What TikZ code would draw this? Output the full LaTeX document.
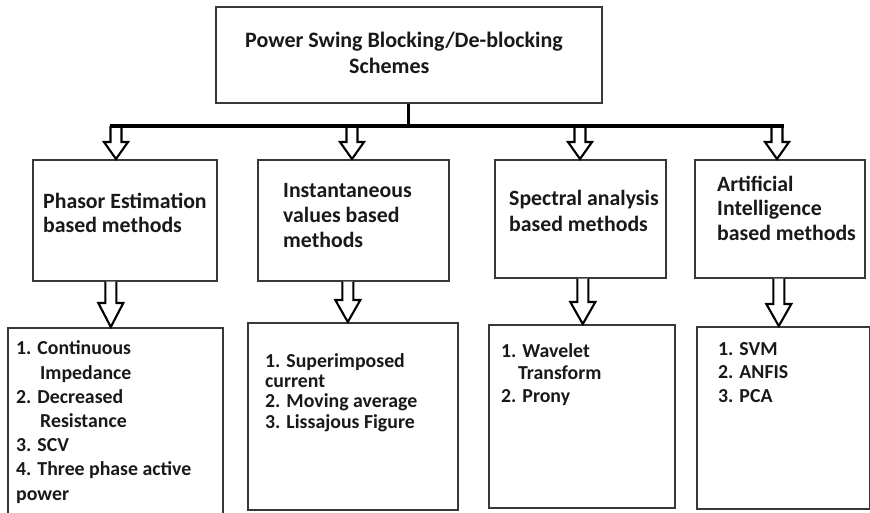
\documentclass[tikz,border=0pt]{standalone}
\usepackage{fontspec}
\setmainfont{Carlito}
\usetikzlibrary{calc}
\definecolor{boxgray}{gray}{0.22}
\definecolor{txt}{gray}{0.10}
% hollow block arrow pointing down: #1 start (shaft top), #2 target anchor (tip height),
% #3 head length, #4 half width of head
\newcommand\hollowdown[4]{%
  \draw[hollow] let \p1=(#1), \p2=(#2) in
    (\x1-5.5pt,\y1) -- (\x1-5.5pt,\y2+#3pt) -- (\x1-#4pt,\y2+#3pt) -- (\x1,\y2)
    -- (\x1+#4pt,\y2+#3pt) -- (\x1+5.5pt,\y2+#3pt) -- (\x1+5.5pt,\y1);}
\begin{document}
\begin{tikzpicture}[x=1pt,y=-1pt,
  box/.style={draw=boxgray, line width=1.6pt, inner sep=0pt, anchor=north west},
  % text blocks are placed by the baseline of their last line
  boxtext/.style={anchor=base west, align=left, inner sep=0pt, text=txt,
    font=\bfseries\fontsize{21.8}{24}\selectfont},
  hollow/.style={draw=black, line width=2.1pt, fill=white, line join=miter},
  bus/.style={draw=black, line width=3.2pt}]
\clip (0,0) rectangle (870,512);
\fill[white] (0,0) rectangle (870,512);

% boxes
\node[box, minimum width=386pt, minimum height=96pt]  (root) at (215,6) {};
\node[box, minimum width=184pt, minimum height=121pt] (b1) at (32,159) {};
\node[box, minimum width=191pt, minimum height=121pt] (b2) at (257,159) {};
\node[box, minimum width=171pt, minimum height=118pt] (b3) at (494,159) {};
\node[box, minimum width=170pt, minimum height=118pt] (b4) at (694,159) {};
\node[box, minimum width=215pt, minimum height=200pt] (l1) at (7,327) {};
\node[box, minimum width=210pt, minimum height=187pt] (l2) at (247,322) {};
\node[box, minimum width=186pt, minimum height=183pt] (l3) at (488,324) {};
\node[box, minimum width=173pt, minimum height=182pt] (l4) at (696,326) {};

% texts
\node[boxtext, font=\bfseries\fontsize{22}{26}\selectfont] (roottext) at (245,73)
  {Power Swing Blocking/De-blocking\\\hspace*{104pt}Schemes};
\node[boxtext] (b1text) at (43,232) {Phasor Estimation\\based methods};
\node[boxtext, font=\bfseries\fontsize{21.8}{25}\selectfont] (b2text) at (283,247)
  {Instantaneous\\values based\\methods};
\node[boxtext, font=\bfseries\fontsize{21.8}{26}\selectfont] (b3text) at (509,231)
  {Spectral analysis\\based methods};
\node[boxtext, font=\bfseries\fontsize{21.8}{24.5}\selectfont] (b4text) at (717,240)
  {Artificial\\Intelligence\\based methods};
\node[boxtext, font=\bfseries\fontsize{19.8}{24.2}\selectfont] (l1text) at (16,500)
  {1. Continuous\\\hspace*{24pt}Impedance\\2. Decreased\\\hspace*{24pt}Resistance\\3. SCV\\4. Three phase active\\power};
\node[boxtext, font=\bfseries\fontsize{19.8}{20.3}\selectfont] (l2text) at (265,428)
  {1. Superimposed\\current\\2. Moving average\\3. Lissajous Figure};
\node[boxtext, font=\bfseries\fontsize{19.8}{22.5}\selectfont] (l3text) at (501,402)
  {1. Wavelet\\\hspace*{17pt}Transform\\2. Prony};
\node[boxtext, font=\bfseries\fontsize{19.8}{23.5}\selectfont] (l4text) at (718,402)
  {1. SVM\\2. ANFIS\\3. PCA};

% bus points and arrow starts
\coordinate (t1) at (116,126);
\coordinate (t2) at (352,126);
\coordinate (t3) at (580,126);
\coordinate (t4) at (777,126);
\coordinate (s1) at ($(b1.south)+(-14,0)$);
\coordinate (s2) at ($(b2.south)+(-5.5,0)$);
\coordinate (s3) at ($(b3.south)+(2.5,0)$);
\coordinate (s4) at ($(b4.south)+(-1,0)$);

% arrows from the bus to the method boxes
\hollowdown{t1}{b1.north}{17}{12}
\hollowdown{t2}{b2.north}{17}{12}
\hollowdown{t3}{b3.north}{17}{12}
\hollowdown{t4}{b4.north}{17}{12}
% arrows from the method boxes to their lists
\hollowdown{s1}{l1.north}{24}{12.5}
\hollowdown{s2}{l2.north}{22}{12.5}
\hollowdown{s3}{l3.north}{22}{12.5}
\hollowdown{s4}{l4.north}{22}{12.5}

% bus and stem from the top box
\draw[bus] ($(t1)+(-6.5,0)$) -- ($(t4)+(6.5,0)$);
\coordinate (j) at (root.south |- t1);
\draw[bus] (root.south) -- (j);
\end{tikzpicture}
\end{document}
